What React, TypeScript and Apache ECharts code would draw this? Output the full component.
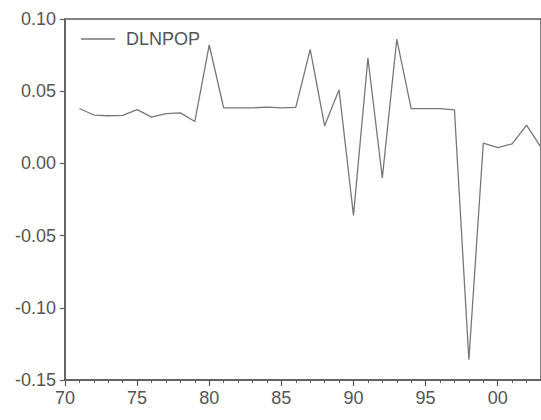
import React, { useEffect, useRef } from "react";
import * as echarts from "echarts";

const years = [
  1971, 1972, 1973, 1974, 1975, 1976, 1977, 1978, 1979, 1980,
  1981, 1982, 1983, 1984, 1985, 1986, 1987, 1988, 1989, 1990,
  1991, 1992, 1993, 1994, 1995, 1996, 1997, 1998, 1999, 2000,
  2001, 2002, 2003,
];
const dlnpop = [
  0.038, 0.0335, 0.033, 0.0333, 0.0372, 0.032, 0.0345, 0.035, 0.029, 0.082,
  0.0385, 0.0385, 0.0385, 0.039, 0.0385, 0.0388, 0.079, 0.026, 0.051, -0.036,
  0.073, -0.01, 0.086, 0.038, 0.038, 0.038, 0.037, -0.136, 0.014, 0.011,
  0.0135, 0.0265, 0.011,
];
const majorYears = [1970, 1975, 1980, 1985, 1990, 1995, 2000];
const seriesName = "DLNPOP";

export default function App() {
  const ref = useRef<HTMLDivElement>(null);
  useEffect(() => {
    if (!ref.current) return;
    const chart = echarts.init(ref.current, undefined, { renderer: "svg" });
    const gray = "#5a5a5a";
    const font = "'Liberation Sans', Arial, sans-serif";
    chart.setOption({
      animation: false,
      backgroundColor: "#ffffff",
      grid: {
        left: 65,
        right: -2,
        top: 19,
        bottom: 40,
        show: true,
        borderColor: gray,
        borderWidth: 1.5,
        backgroundColor: "transparent",
      },
      legend: {
        left: 76,
        top: 25,
        data: [{ name: seriesName, icon: "rect" }],
        itemWidth: 34,
        itemHeight: 1.3,
        itemStyle: { color: "#777" },
        textStyle: { color: "#555", fontSize: 18, fontFamily: font, padding: [0, 0, 0, 6] },
      },
      xAxis: [
        {
          type: "value",
          min: 1970,
          max: 2003,
          interval: 1,
          position: "bottom",
          axisLine: { show: true, onZero: false, lineStyle: { color: gray, width: 1.5 } },
          axisTick: { show: true, length: 3, lineStyle: { color: gray, width: 1 } },
          axisLabel: { show: false },
          splitLine: { show: false },
        },
        {
          type: "value",
          min: 1970,
          max: 2003,
          interval: 5,
          position: "bottom",
          axisLine: { show: false, onZero: false },
          axisTick: {
            show: true,
            length: 6,
            customValues: majorYears,
            lineStyle: { color: gray, width: 1.2 },
          },
          axisLabel: {
            show: true,
            customValues: majorYears,
            margin: 9,
            color: "#555",
            fontSize: 18,
            fontFamily: font,
            formatter: (v: number) => String(Math.round(v) % 100).padStart(2, "0"),
          },
          splitLine: { show: false },
        },
      ],
      yAxis: {
        type: "value",
        min: -0.15,
        max: 0.1,
        interval: 0.05,
        axisLine: { show: true, onZero: false, lineStyle: { color: gray, width: 1.5 } },
        axisTick: { show: true, length: 5, lineStyle: { color: gray, width: 1.2 } },
        axisLabel: {
          margin: 9,
          color: "#555",
          fontSize: 18,
          fontFamily: font,
          formatter: (v: number) => v.toFixed(2),
        },
        splitLine: { show: false },
      },
      series: [
        {
          name: seriesName,
          type: "line",
          xAxisIndex: 0,
          data: years.map((y, i) => [y, dlnpop[i]]),
          showSymbol: false,
          symbol: "none",
          lineStyle: { color: "#777", width: 1.3 },
          itemStyle: { color: "#777" },
        },
      ],
    });
    return () => chart.dispose();
  }, []);
  return (
    <div
      ref={ref}
      style={{ position: "absolute", left: 0, top: 0, width: 541, height: 420 }}
    />
  );
}
